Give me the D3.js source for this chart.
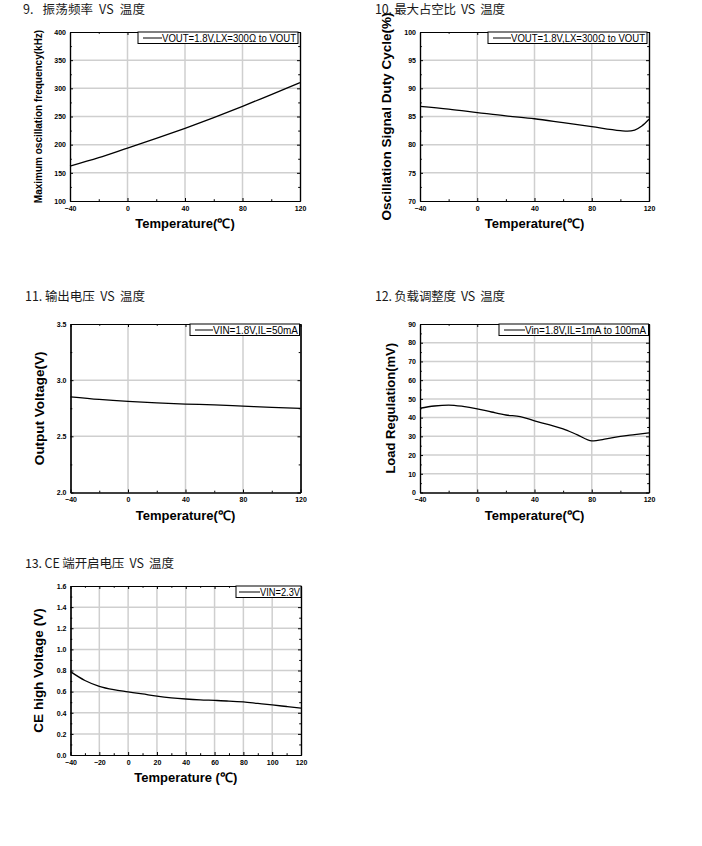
<!DOCTYPE html>
<html><head><meta charset="utf-8">
<script src="https://cdn.jsdelivr.net/npm/d3@7"></script>
<style>
body{margin:0;background:#fff;}
svg{display:block;}
</style></head>
<body>
<svg id="c" width="702" height="846"></svg>
<script>
// ---- data ----
const temps9 = [-40,-20,0,20,40,60,80,100,120];
const freq9 = [162,177,194,211,229,248,268,289,310];

const temps10 = [-40,-20,0,20,40,60,80,100,105,110,115,120];
const duty10 = [86.8,86.3,85.7,85.1,84.6,83.9,83.2,82.5,82.4,82.6,83.3,84.5];

const temps11 = [-40,-20,0,20,40,60,80,100,120];
const vout11 = [2.852,2.829,2.811,2.797,2.787,2.780,2.769,2.758,2.749];

const temps12 = [-40,-30,-20,-10,0,10,20,30,40,50,60,70,80,90,100,110,120];
const load12 = [45.0,46.2,46.7,46.0,44.7,43.0,41.4,40.5,38.3,36.2,34.0,30.8,27.6,28.6,30.0,30.9,31.8];

const temps13 = [-40,-30,-20,-10,0,10,20,30,40,50,60,70,80,90,100,110,120];
const ce13 = [0.789,0.705,0.650,0.618,0.598,0.578,0.557,0.541,0.530,0.522,0.517,0.511,0.502,0.488,0.474,0.459,0.444];

const xTicksA = [-40,0,40,80,120];
const xTicksB = [-40,-20,0,20,40,60,80,100,120];
const yTicks9 = [100,150,200,250,300,350,400];
const yTicks10 = [70,75,80,85,90,95,100];
const yTicks11 = [2.0,2.5,3.0,3.5];
const yTicks12 = [0,10,20,30,40,50,60,70,80,90];
const yTicks13 = [0,0.2,0.4,0.6,0.8,1.0,1.2,1.4,1.6];

const svg = d3.select("#c");
const CJK = "'Noto Sans CJK SC','Liberation Sans',sans-serif";
const SANS = "'Liberation Sans',Arial,sans-serif";

function chart(o){
  const g = svg.append("g");
  const x = d3.scaleLinear().domain([-40,120]).range([o.l,o.r]);
  const y = d3.scaleLinear().domain(o.yd).range([o.b,o.t]);
  // title
  g.append("text").attr("x",o.tx).attr("y",o.ty).attr("font-family",CJK)
    .attr("font-size",12.5).attr("fill","#1a1a1a").attr("xml:space","preserve")
    .style("white-space","pre")
    .attr("textLength",o.tw).attr("lengthAdjust","spacing").text(o.title);
  // grid
  g.append("g").selectAll("line").data(o.xt.slice(1,-1)).join("line")
    .attr("x1",d=>x(d)).attr("x2",d=>x(d)).attr("y1",o.t).attr("y2",o.b)
    .attr("stroke","#cfcfcf").attr("stroke-width",1.5);
  g.append("g").selectAll("line").data(o.yt.slice(1,-1)).join("line")
    .attr("y1",d=>y(d)).attr("y2",d=>y(d)).attr("x1",o.l).attr("x2",o.r)
    .attr("stroke","#cfcfcf").attr("stroke-width",1.5);
  // axes with inward ticks
  const xminor = [];
  for(let i=0;i<o.xt.length-1;i++) xminor.push((o.xt[i]+o.xt[i+1])/2);
  const yminor = [];
  for(let i=0;i<o.yt.length-1;i++) yminor.push((o.yt[i]+o.yt[i+1])/2);
  const axB = d3.axisBottom(x).tickValues(o.xt).tickSizeInner(-3).tickSizeOuter(0).tickPadding(5).tickFormat(d3.format("d"));
  const axL = d3.axisLeft(y).tickValues(o.yt).tickSizeInner(-3).tickSizeOuter(0).tickPadding(4).tickFormat(o.yf);
  const axT = d3.axisTop(x).tickValues(o.xt).tickSizeInner(-3).tickSizeOuter(0).tickFormat("");
  const axR = d3.axisRight(y).tickValues(o.yt).tickSizeInner(-3).tickSizeOuter(0).tickFormat("");
  g.append("g").attr("transform",`translate(0,${o.b})`).call(axB);
  g.append("g").attr("transform",`translate(${o.l},0)`).call(axL);
  g.append("g").attr("transform",`translate(0,${o.t})`).call(axT);
  g.append("g").attr("transform",`translate(${o.r},0)`).call(axR);
  g.append("g").attr("transform",`translate(0,${o.b})`).call(d3.axisBottom(x).tickValues(xminor).tickSizeInner(-1.8).tickSizeOuter(0).tickFormat(""));
  g.append("g").attr("transform",`translate(${o.l},0)`).call(d3.axisLeft(y).tickValues(yminor).tickSizeInner(-1.8).tickSizeOuter(0).tickFormat(""));
  g.append("g").attr("transform",`translate(0,${o.t})`).call(d3.axisTop(x).tickValues(xminor).tickSizeInner(-1.8).tickSizeOuter(0).tickFormat(""));
  g.append("g").attr("transform",`translate(${o.r},0)`).call(d3.axisRight(y).tickValues(yminor).tickSizeInner(-1.8).tickSizeOuter(0).tickFormat(""));
  g.selectAll(".domain").attr("stroke","#000").attr("stroke-width",1.2);
  g.selectAll(".tick line").attr("stroke","#000");
  g.selectAll(".tick text").attr("font-family",SANS).attr("font-weight","bold").attr("font-size",7).attr("fill","#000");
  // line
  const line = d3.line().x(d=>x(d[0])).y(d=>y(d[1])).curve(d3.curveMonotoneX);
  g.append("path").datum(o.xs.map((t,i)=>[t,o.ys[i]])).attr("d",line)
    .attr("fill","none").attr("stroke","#000").attr("stroke-width",1.3);
  // legend
  const [b0,b1,l0,l1,t1] = o.lg;
  g.append("rect").attr("x",b0).attr("y",o.t).attr("width",b1-b0).attr("height",11.5)
    .attr("fill","#fff").attr("stroke","#000").attr("stroke-width",1);
  g.append("line").attr("x1",l0).attr("x2",l1).attr("y1",o.t+6).attr("y2",o.t+6)
    .attr("stroke","#000").attr("stroke-width",1);
  g.append("text").attr("x",l1).attr("y",o.t+9.8).attr("font-family",SANS)
    .attr("font-size",10.5).attr("fill","#000")
    .attr("textLength",t1-l1).attr("lengthAdjust","spacingAndGlyphs").text(o.leg);
  // x label
  g.append("text").attr("x",(o.l+o.r)/2).attr("y",o.b+27).attr("text-anchor","middle")
    .attr("font-family",SANS).attr("font-weight","bold").attr("font-size",13).text(o.xl);
  // y label
  g.append("text").attr("transform",`translate(${o.ylx},${(o.t+o.b)/2}) rotate(-90)`)
    .attr("text-anchor","middle").attr("font-family",SANS).attr("font-weight","bold")
    .attr("font-size",o.yfs).text(o.yl);
}

const f0 = d3.format("d"), f1 = d3.format(".1f");

chart({title:"9.   振荡频率  VS  温度", tx:23, ty:14, tw:122, l:70, r:300, t:32, b:201,
  yd:[100,400], xt:xTicksA, yt:yTicks9, yf:f0, xs:temps9, ys:freq9,
  lg:[138,298,143,162,296], leg:"VOUT=1.8V,LX=300Ω to VOUT", xl:"Temperature(℃)",
  yl:"Maximum oscillation frequency(kHz)", ylx:42, yfs:10});

chart({title:"10. 最大占空比  VS  温度", tx:375, ty:14, tw:130, l:420, r:649, t:32, b:201,
  yd:[70,100], xt:xTicksA, yt:yTicks10, yf:f0, xs:temps10, ys:duty10,
  lg:[488,647,493,511,645], leg:"VOUT=1.8V,LX=300Ω to VOUT", xl:"Temperature(℃)",
  yl:"Oscillation Signal Duty Cycle(%)", ylx:391, yfs:13.5});

chart({title:"11. 输出电压  VS  温度", tx:25, ty:301, tw:120, l:70.5, r:300.5, t:324, b:492.5,
  yd:[2.0,3.5], xt:xTicksA, yt:yTicks11, yf:f1, xs:temps11, ys:vout11,
  lg:[190,299.5,195,213,298], leg:"VIN=1.8V,IL=50mA", xl:"Temperature(℃)",
  yl:"Output Voltage(V)", ylx:44, yfs:13.5});

chart({title:"12. 负载调整度  VS  温度", tx:375, ty:301, tw:130, l:420, r:649, t:324, b:492.5,
  yd:[0,90], xt:xTicksA, yt:yTicks12, yf:f0, xs:temps12, ys:load12,
  lg:[499,648.5,504,525,646], leg:"Vin=1.8V,IL=1mA to 100mA", xl:"Temperature(℃)",
  yl:"Load Regulation(mV)", ylx:395, yfs:13});

chart({title:"13. CE 端开启电压  VS  温度", tx:25, ty:568, tw:149, l:70.5, r:301, t:586, b:755,
  yd:[0,1.6], xt:xTicksB, yt:yTicks13, yf:f1, xs:temps13, ys:ce13,
  lg:[236,301,239,260,300], leg:"VIN=2.3V", xl:"Temperature (℃)",
  yl:"CE high Voltage (V)", ylx:43, yfs:13.5});
</script>
</body></html>
